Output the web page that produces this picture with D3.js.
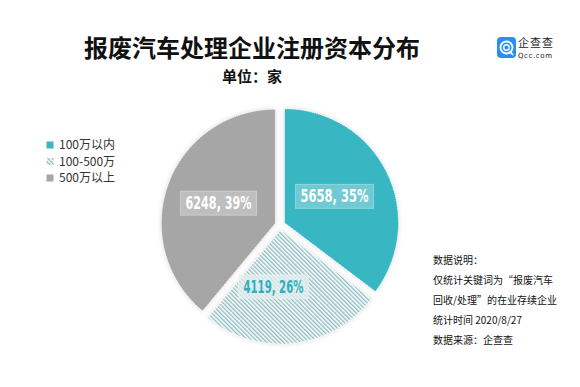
<!DOCTYPE html>
<meta charset="utf-8">
<style>
body{margin:0;background:#fff;}
text{font-family:'Noto Sans CJK SC','Noto Sans',sans-serif;}
</style>
<svg id="svg"></svg>
<script src="https://d3js.org/d3.v7.min.js"></script>
<script>
var width = 580, height = 387;

// data
var categories = ['100万以内', '100-500万', '500万以上'];
var counts = [5658, 4119, 6248];
var shares = ['35%', '26%', '39%'];
var notes = ['数据说明：', '仅统计关键词为“报废汽车', '回收/处理”的在业存续企业', '统计时间 2020/8/27', '数据来源：企查查'];

var teal = '#39b6c2', grey = '#a6a6a6', hatchCol = '#8fbcc1';

var svg = d3.select('#svg').attr('width', width).attr('height', height);
var defs = svg.append('defs');

// hatch pattern for middle slice
var pat = defs.append('pattern').attr('id', 'hatch')
  .attr('patternUnits', 'userSpaceOnUse').attr('width', 3).attr('height', 3)
  .attr('patternTransform', 'rotate(-45)');
pat.append('rect').attr('width', 3).attr('height', 3).attr('fill', '#fff');
pat.append('rect').attr('width', 1.4).attr('height', 3).attr('fill', hatchCol);

var sh = defs.append('filter').attr('id', 'shadow').attr('x', '-20%').attr('y', '-20%').attr('width', '140%').attr('height', '140%');
sh.append('feDropShadow').attr('dx', 0).attr('dy', 0).attr('stdDeviation', 2.5).attr('flood-color', '#000').attr('flood-opacity', 0.15);

var fills = [teal, 'url(#hatch)', grey];

// title
svg.append('text').attr('x', 252).attr('y', 57).attr('text-anchor', 'middle')
  .style('font-size', '24px').style('font-weight', 'bold').attr('fill', '#111')
  .text('报废汽车处理企业注册资本分布');
svg.append('text').attr('x', 252).attr('y', 82).attr('text-anchor', 'middle')
  .style('font-size', '15px').style('font-weight', 'bold').attr('fill', '#111')
  .text('单位：家');

// logo
var logo = svg.append('g').attr('transform', 'translate(497,37)');
logo.append('rect').attr('width', 19).attr('height', 21).attr('rx', 4).attr('fill', '#2b8ef2');
logo.append('circle').attr('cx', 9.5).attr('cy', 10.5).attr('r', 6).attr('fill', 'none').attr('stroke', '#fff').attr('stroke-width', 1.8);
logo.append('circle').attr('cx', 9.5).attr('cy', 10.5).attr('r', 2.8).attr('fill', 'none').attr('stroke', '#fff').attr('stroke-width', 1.4);
logo.append('line').attr('x1', 12.5).attr('y1', 14).attr('x2', 16).attr('y2', 18).attr('stroke', '#fff').attr('stroke-width', 1.8);
logo.append('text').attr('x', 21).attr('y', 10).style('font-size', '11px').attr('fill', '#222')
  .attr('textLength', 35).attr('lengthAdjust', 'spacing').text('企查查');
logo.append('text').attr('x', 21).attr('y', 21).style('font-size', '7px').style('font-family', 'DejaVu Sans')
  .attr('textLength', 34).attr('fill', '#222').text('Qcc.com');

// pie
var cx = 280, cy = 225, r = 114, explode = 5;
var pie = d3.pie().sort(null).value(d => d);
var arcs = pie(counts);
var arc = d3.arc().innerRadius(0).outerRadius(r);
var labelArc = d3.arc().innerRadius(r * 0.52).outerRadius(r * 0.52);

var g = svg.append('g').attr('transform', 'translate(' + cx + ',' + cy + ')');
var slices = g.selectAll('g.slice').data(arcs).enter().append('g').attr('class', 'slice')
  .attr('transform', d => {
    var a = (d.startAngle + d.endAngle) / 2;
    return 'translate(' + (Math.sin(a) * explode) + ',' + (-Math.cos(a) * explode) + ')';
  });
slices.append('path').attr('d', arc).attr('fill', (d, i) => fills[i])
  .attr('filter', 'url(#shadow)');
slices.append('path').attr('d', arc).attr('fill', 'none')
  .attr('stroke', '#fff').attr('stroke-width', 1).attr('stroke-dasharray', '1,1');

var labOffset = [[-3, 0], [-14, -2], [-1, 0]];
var labWidth = [68, 60, 66];
slices.each(function(d, i) {
  var c = labelArc.centroid(d);
  var x = c[0] + labOffset[i][0], y = c[1] + labOffset[i][1];
  var s = d3.select(this);
  var box = s.append('rect');
  var t = s.append('text').attr('x', x - labWidth[i] / 2).attr('y', y).attr('dy', '0.36em')
    .style('font-family', "'DejaVu Sans Condensed','DejaVu Sans',sans-serif")
    .style('font-weight', 'bold').style('font-size', '17px')
    .attr('textLength', labWidth[i]).attr('lengthAdjust', 'spacingAndGlyphs')
    .attr('fill', i === 1 ? '#2cb0bf' : '#fff')
    .text(d3.format('d')(counts[i]) + ', ' + shares[i]);
  box.attr('x', x - labWidth[i] / 2 - 5).attr('y', y - 12).attr('width', labWidth[i] + 10).attr('height', 24)
    .attr('fill', i === 1 ? '#e6eeee' : '#fff').attr('fill-opacity', i === 1 ? 0.75 : 0.28)
    .attr('stroke', '#fff').attr('stroke-opacity', 0.35);
});

// legend
var legend = svg.append('g').attr('transform', 'translate(50,145)');
var li = legend.selectAll('g').data(categories).enter().append('g')
  .attr('transform', (d, i) => 'translate(0,' + (i * 16.5) + ')');
li.append('rect').attr('x', -3.5).attr('y', -3.5).attr('width', 7).attr('height', 7)
  .attr('fill', (d, i) => fills[i]);
li.append('text').attr('x', 9).attr('dy', '0.36em').style('font-size', '12px').attr('fill', '#333').text(d => d);

// notes
svg.append('g').selectAll('text').data(notes).enter().append('text')
  .attr('x', 433).attr('y', (d, i) => 264 + i * 20)
  .style('font-size', '10px').attr('fill', '#111').text(d => d);
</script>
